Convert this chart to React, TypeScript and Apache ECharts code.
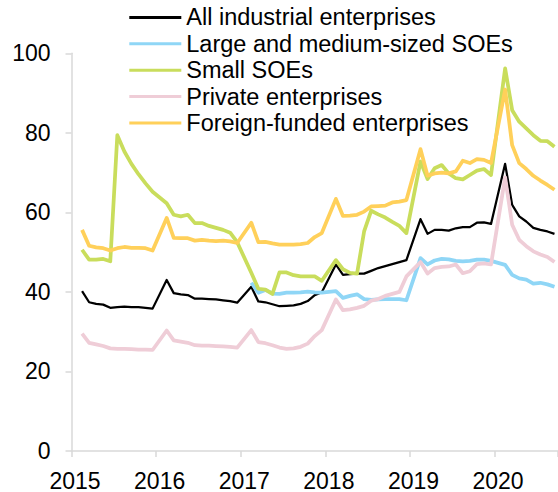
import React, { useEffect, useRef } from "react";
import * as echarts from "echarts";

// Monthly categories Jan 2015 – Sep 2020 (January is not published: null)
const YEARS = [2015, 2016, 2017, 2018, 2019, 2020];
const LAST_MONTH_OF_LAST_YEAR = 9;
const categories: string[] = [];
YEARS.forEach((y) => {
  const last = y === YEARS[YEARS.length - 1] ? LAST_MONTH_OF_LAST_YEAR : 12;
  for (let m = 1; m <= last; m++) categories.push(`${y}-${String(m).padStart(2, "0")}`);
});

const N = null;

const allIndustrial = [
  N, 40.2, 37.4, 37.0, 36.8, 36.0, 36.2, 36.3, 36.2, 36.2, 36.0, 35.8,
  N, 43.0, 39.7, 39.4, 39.2, 38.3, 38.3, 38.2, 38.1, 37.9, 37.7, 37.3,
  N, 41.3, 37.6, 37.4, 36.9, 36.4, 36.5, 36.6, 37.0, 37.7, 39.2, 39.9,
  N, 46.9, 44.3, 44.5, 44.6, 44.6, 45.3, 46.0, 46.5, 47.0, 47.5, 48.0,
  N, 58.3, 54.6, 55.6, 55.6, 55.4, 56.0, 56.3, 56.3, 57.4, 57.5, 57.1,
  N, 72.2, 61.9, 59.0, 57.7, 56.1, 55.6, 55.2, 54.6,
];

const largeMediumSOEs = [
  N, N, N, N, N, N, N, N, N, N, N, N,
  N, N, N, N, N, N, N, N, N, N, N, N,
  N, 42.3, 39.8, 40.5, 39.6, 39.5, 39.8, 39.8, 39.9, 40.1, 39.9, 39.8,
  N, 40.2, 38.5, 39.0, 39.4, 38.2, 38.0, 38.1, 38.2, 38.2, 38.2, 37.9,
  N, 48.5, 46.9, 47.9, 48.3, 48.2, 47.8, 47.7, 47.8, 48.1, 48.1, 47.8,
  N, 46.8, 44.3, 43.4, 43.1, 42.1, 42.3, 41.9, 41.3,
];

const smallSOEs = [
  N, 50.6, 48.1, 48.1, 48.3, 47.7, 79.4, 75.3, 72.2, 69.6, 67.3, 65.2,
  N, 62.3, 59.4, 59.0, 59.4, 57.3, 57.3, 56.6, 56.1, 55.6, 54.9, 52.5,
  N, 44.8, 40.8, 40.6, 39.5, 44.9, 44.9, 44.2, 43.9, 43.9, 43.9, 42.8,
  N, 48.0, 45.7, 44.8, 44.6, 55.2, 60.4, 59.5, 58.7, 57.6, 56.6, 54.8,
  N, 72.8, 68.4, 71.1, 71.9, 69.8, 68.6, 68.3, 69.4, 70.5, 70.9, 69.4,
  N, 96.2, 85.7, 82.8, 81.1, 79.4, 78.0, 77.9, 76.5,
];

const privateEnt = [
  N, 29.5, 27.2, 26.8, 26.4, 25.8, 25.7, 25.7, 25.6, 25.5, 25.5, 25.4,
  N, 30.3, 27.8, 27.5, 27.2, 26.6, 26.5, 26.5, 26.4, 26.3, 26.2, 26.0,
  N, 30.4, 27.4, 27.1, 26.6, 26.0, 25.7, 25.8, 26.2, 27.0, 28.9, 30.4,
  N, 38.1, 35.4, 35.6, 36.0, 36.5, 37.8, 38.2, 39.0, 39.5, 40.0, 43.9,
  N, 47.5, 44.6, 46.0, 46.3, 46.4, 46.9, 44.7, 45.2, 47.0, 47.2, 46.9,
  N, 68.8, 56.9, 53.1, 51.5, 50.2, 49.4, 48.8, 47.5,
];

const foreignFunded = [
  N, 55.6, 51.6, 51.2, 51.0, 50.4, 51.0, 51.3, 51.1, 51.1, 51.0, 50.4,
  N, 58.6, 53.6, 53.5, 53.5, 52.9, 53.1, 52.9, 52.8, 52.9, 52.7, 52.3,
  N, 57.4, 52.5, 52.6, 52.2, 51.9, 51.9, 51.9, 52.0, 52.3, 53.8, 54.8,
  N, 63.4, 59.1, 59.2, 59.4, 60.2, 61.5, 61.6, 61.7, 62.5, 62.7, 63.1,
  N, 75.9, 69.2, 69.8, 70.0, 69.8, 70.3, 73.0, 72.4, 73.4, 73.2, 72.4,
  N, 90.9, 76.9, 72.4, 70.9, 69.2, 68.0, 66.9, 65.7,
];

const SERIES_NAMES = [
  "All industrial enterprises",
  "Large and medium-sized SOEs",
  "Small SOEs",
  "Private enterprises",
  "Foreign-funded enterprises",
];
const SERIES_DATA = [allIndustrial, largeMediumSOEs, smallSOEs, privateEnt, foreignFunded];
const COLORS = ["#000000", "#8fd6f6", "#c9dd5c", "#efcdd7", "#ffd05a"];
const WIDTHS = [2.25, 3.75, 3.75, 3.75, 3.75];
const Y_TICKS = { min: 0, max: 100, interval: 20 };

const FONT = "'Liberation Sans', Arial, sans-serif";

export default function App() {
  const ref = useRef<HTMLDivElement>(null);
  useEffect(() => {
    if (!ref.current) return;
    const chart = echarts.init(ref.current, null, { renderer: "svg" });
    const axisGrey = "#d9d9d9";
    chart.setOption({
      animation: false,
      backgroundColor: "#ffffff",
      grid: { left: 71.5, top: 53.3, width: 490, height: 399.4, containLabel: false },
      legend: {
        orient: "vertical",
        left: 124.3,
        top: 0.4,
        itemGap: 2.4,
        itemWidth: 52,
        itemHeight: 3,
        selectedMode: false,
        textStyle: { fontSize: 23.5, color: "#000", fontFamily: FONT },
        data: SERIES_NAMES.map((n, i) => ({
          name: n,
          icon: "rect",
          itemStyle: { color: COLORS[i] },
        })),
      },
      xAxis: {
        type: "category",
        data: categories,
        boundaryGap: true,
        axisLine: { show: true, lineStyle: { color: axisGrey, width: 1.5 } },
        axisTick: { show: true, interval: 11, length: 6, alignWithLabel: false, lineStyle: { color: axisGrey, width: 1.5 } },
        axisLabel: {
          interval: 11,
          margin: 18,
          fontSize: 23,
          color: "#000",
          fontFamily: FONT,
          formatter: (v: string) => v.slice(0, 4),
        },
        splitLine: { show: false },
      },
      yAxis: {
        type: "value",
        min: Y_TICKS.min,
        max: Y_TICKS.max,
        interval: Y_TICKS.interval,
        axisLine: { show: true, lineStyle: { color: axisGrey, width: 1.5 } },
        axisTick: { show: true, length: 6, lineStyle: { color: axisGrey, width: 1.5 } },
        axisLabel: { margin: 21, fontSize: 23, color: "#000", fontFamily: FONT },
        splitLine: { show: false },
      },
      series: SERIES_NAMES.map((n, i) => ({
        name: n,
        type: "line",
        data: SERIES_DATA[i],
        connectNulls: true,
        symbol: "none",
        showSymbol: false,
        color: COLORS[i],
        lineStyle: { color: COLORS[i], width: WIDTHS[i], join: "round" },
        emphasis: { disabled: true },
        z: 2 + i,
      })),
    });
    return () => chart.dispose();
  }, []);
  return (
    <div
      ref={ref}
      style={{ position: "fixed", left: 0, top: 0, width: 558, height: 492, background: "#fff" }}
    />
  );
}
